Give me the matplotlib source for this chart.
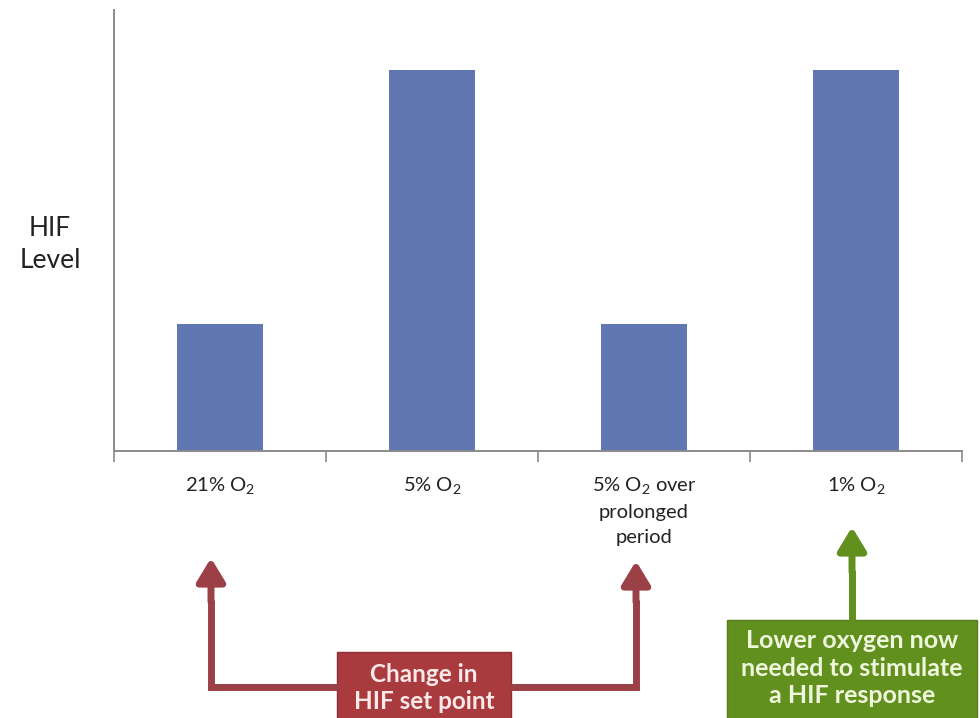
import numpy as np
import matplotlib.pyplot as plt

plt.rcParams['font.family'] = ['Lato', 'DejaVu Sans']
plt.rcParams['mathtext.fontset'] = 'custom'
plt.rcParams['mathtext.rm'] = 'Lato'
plt.rcParams['mathtext.it'] = 'Lato'

categories = ['21% O$_2$', '5% O$_2$', '5% O$_2$ over\nprolonged\nperiod', '1% O$_2$']
hif_level = [1, 3, 1, 3]

bar_color = '#6077B3'
red_line = '#9A4046'
red_box = '#A93A3D'
green = '#62901F'

fig = plt.figure(figsize=(9.8, 7.18), dpi=100)
ax = fig.add_axes([114/980, 1 - 451/718, (962 - 114)/980, (451 - 10)/718])

x = np.arange(len(categories))
ax.bar(x, hif_level, width=0.405, color=bar_color, zorder=2)

ax.set_xlim(-0.5, len(categories) - 0.5)
ax.set_ylim(0, 3.47)
ax.set_xticks(x)
ax.set_xticklabels(categories, fontsize=14.5, color='#222222', linespacing=1.6, va='top')
ax.set_xticks(np.arange(-0.5, len(categories)), minor=True)
ax.tick_params(axis='x', which='major', length=0, pad=17)
ax.tick_params(axis='x', which='minor', length=8, width=1.2, color='#8a8a8a', direction='out')
ax.set_yticks([])
for s in ['top', 'right']:
    ax.spines[s].set_visible(False)
for s in ['left', 'bottom']:
    ax.spines[s].set_color('#8a8a8a')
    ax.spines[s].set_linewidth(1.4)

fig.text(50/980, 1 - 244/718, 'HIF\nLevel', ha='center', va='center', fontsize=19,
         color='#222222', linespacing=1.35)

# overlay in pixel coordinates for the annotation arrows
ov = fig.add_axes([0, 0, 1, 1], facecolor='none')
ov.set_xlim(0, 980)
ov.set_ylim(718, 0)
ov.axis('off')

head = dict(arrowstyle='-|>,head_length=1.4,head_width=0.85', lw=5, shrinkA=0, shrinkB=0)

# red bracket: box -> both sides up
ov.plot([338, 211, 211], [687, 687, 600], color=red_line, lw=5, solid_capstyle='butt',
        solid_joinstyle='miter')
ov.annotate('', xy=(211, 558), xytext=(211, 602),
            arrowprops=dict(color=red_line, **head))
ov.plot([510, 636, 636], [687, 687, 600], color=red_line, lw=5, solid_capstyle='butt',
        solid_joinstyle='miter')
ov.annotate('', xy=(636, 561), xytext=(636, 602),
            arrowprops=dict(color=red_line, **head))
ov.add_patch(plt.Rectangle((337, 652), 174, 70, facecolor=red_box, edgecolor='#8e2f33', lw=1))
ov.text(424, 688, 'Change in\nHIF set point', ha='center', va='center', fontsize=17.5,
        fontweight='bold', color='#fbe9e9', linespacing=1.2)

# green arrow
ov.plot([852, 852], [621, 570], color=green, lw=5, solid_capstyle='butt')
ov.annotate('', xy=(852, 527), xytext=(852, 572),
            arrowprops=dict(color=green, **head))
ov.add_patch(plt.Rectangle((727, 620), 250, 100, facecolor=green, edgecolor='#557d1a', lw=1))
ov.text(852, 668, 'Lower oxygen now\nneeded to stimulate\na HIF response', ha='center',
        va='center', fontsize=18, fontweight='bold', color='#eef7dc', linespacing=1.25)

fig.savefig('out.png', dpi=100)
